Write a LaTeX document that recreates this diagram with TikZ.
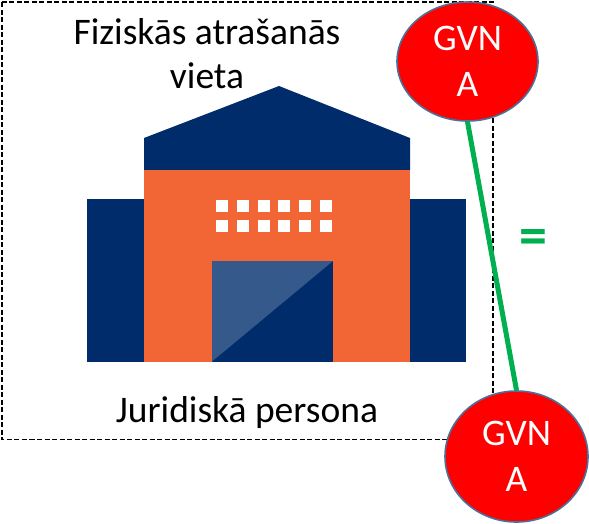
\documentclass[tikz,border=0pt]{standalone}
\usepackage{fontspec}
\setmainfont{Carlito}
\usetikzlibrary{shapes.geometric}
\definecolor{navy}{HTML}{002C6C}
\definecolor{orangeb}{HTML}{F26534}
\definecolor{doorb}{HTML}{35598B}
\definecolor{greenl}{HTML}{00B050}
\definecolor{edgeb}{HTML}{4A7199}
\tikzset{
  gvn/.style={ellipse,draw=edgeb,line width=1.6pt,fill=red,text=white,inner sep=0pt,align=center,font=\fontsize{37.5}{46}\selectfont},
  lbl/.style={text=black,align=center,inner sep=0pt,font=\fontsize{37.5}{44}\selectfont},
  win/.style={fill=white,draw=none}
}
\begin{document}
\begin{tikzpicture}[x=1pt,y=-1pt]
\useasboundingbox (0,0) rectangle (589,523);
\draw[line width=1.9pt,dash pattern=on 5pt off 2.5pt] (2,2) rectangle (493,439.5);
% building
\fill[navy] (87,198.5) rectangle (466,361.5);
\fill[navy] (144,170) -- (144,138) -- (279,86) -- (410,138) -- (410,170) -- cycle;
\fill[orangeb] (144,169.5) rectangle (410,361.5);
\fill[navy] (212,261) rectangle (333,361.5);
\fill[doorb] (212,261) -- (333,261) -- (212,361.5) -- cycle;
\foreach \i in {0,...,5}{
  \fill[win] ({216+20.75*\i},199.5) rectangle ++(12,12);
  \fill[win] ({216+20.75*\i},220) rectangle ++(12,12);
}
\node[lbl] (title) at (207,53.5) {Fiziskās atrašanās\\vieta};
\node[lbl] (legal) at (247,412) {Juridiskā persona};
\node[gvn,minimum width=141pt,minimum height=119pt] (a) at (467.5,61.5) {GVN\\A};
\node[gvn,minimum width=143pt,minimum height=131pt] (b) at (516.5,456.5) {GVN\\A};
\draw[greenl,line width=5pt] (a.south) -- (b.north);
\node[text=greenl,inner sep=0pt,font=\bfseries\fontsize{56}{56}\selectfont] (eq) at (533,242) {=};
\end{tikzpicture}
\end{document}
